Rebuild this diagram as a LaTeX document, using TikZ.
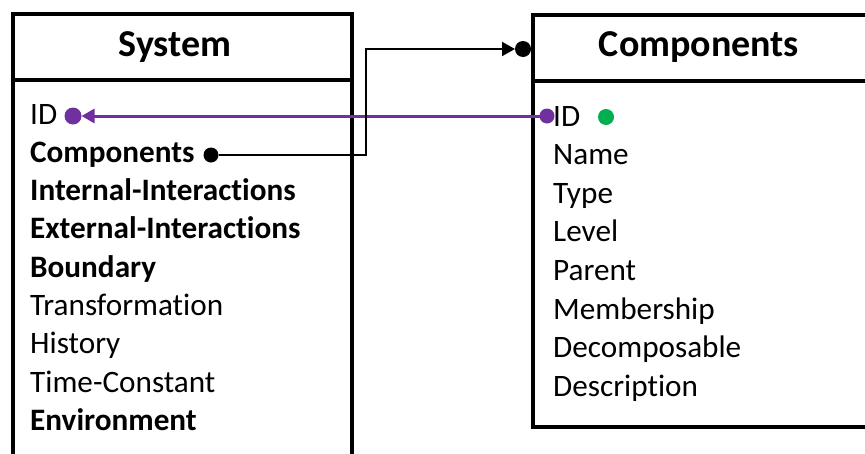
\documentclass[tikz,border=0pt]{standalone}
\usepackage{fontspec}
\setmainfont{Carlito}[Ligatures=NoCommon,RawFeature={-liga;-clig;-calt;-dlig}]
\usetikzlibrary{arrows.meta}
\definecolor{keypurple}{HTML}{7030A0}
\definecolor{keygreen}{HTML}{00B050}
\begin{document}
\begin{tikzpicture}[x=1pt,y=-1pt,
  tablebox/.style={line width=4.5pt,line join=miter},
  header/.style={font=\fontsize{38}{42}\selectfont\bfseries,inner sep=0pt,anchor=base},
  item/.style={font=\fontsize{31.2}{36}\selectfont,inner sep=0pt,anchor=base west},
  keyitem/.style={item,font=\fontsize{31.2}{36}\selectfont\bfseries},
  dotmark/.style={circle,inner sep=0pt,outer sep=0pt,minimum size=#1,fill},
  idlink/.style={keypurple,line width=3pt},
  complink/.style={black,line width=2pt}
]
\useasboundingbox (0,0) rectangle (865,453);
\clip (0,0) rectangle (865,453);

% System table
\draw[tablebox] (13,470) -- (13,14) -- (352,14) -- (352,470);
\draw[tablebox] (13,80) -- (352,80);
\node[header] (sys-title) at (175,56) {System};
\node[item]    (s-id)   at (30,124.0) {ID};
\node[keyitem] (s-comp) at (30,162.3) {Components};
\node[keyitem] (s-int)  at (30,200.6) {Internal-Interactions};
\node[keyitem] (s-ext)  at (30,238.9) {External-Interactions};
\node[keyitem] (s-bnd)  at (30,277.2) {Boundary};
\node[item]    (s-trf)  at (30,315.5) {Transformation};
\node[item]    (s-his)  at (30,353.8) {History};
\node[item]    (s-tc)   at (30,392.1) {Time-Constant};
\node[keyitem] (s-env)  at (30,430.4) {Environment};

% Components table
\draw[tablebox] (900,15) -- (533,15) -- (533,427) -- (900,427);
\draw[tablebox] (533,81) -- (900,81);
\node[header] (comp-title) at (699,56) {Components};
\node[item] (c-id)   at (553,126.0) {ID};
\node[item] (c-name) at (553,164.6) {Name};
\node[item] (c-type) at (553,203.2) {Type};
\node[item] (c-lvl)  at (553,241.8) {Level};
\node[item] (c-par)  at (553,280.4) {Parent};
\node[item] (c-mem)  at (553,319.0) {Membership};
\node[item] (c-dec)  at (553,357.6) {Decomposable};
\node[item] (c-desc) at (553,396.2) {Description};

% key markers
\node[dotmark=17pt,keypurple] (s-id-dot) at (73,116) {};
\node[dotmark=15pt,keypurple] (c-id-dot) at (547,116) {};
\node[dotmark=16pt,keygreen]  (c-pk-dot) at (606,117) {};
\node[dotmark=15pt,black]     (s-comp-dot) at (211,155) {};
\node[dotmark=16pt,black]     (c-head-dot) at (523,49) {};
\coordinate (bend) at (366,49);

% links
\draw[idlink,-{Triangle[length=13pt,width=14pt]}] (c-id-dot) -- (s-id-dot);
\draw[complink,-{Triangle[length=13pt,width=14pt]}] (s-comp-dot) -| (bend) -- (c-head-dot);
\end{tikzpicture}
\end{document}
